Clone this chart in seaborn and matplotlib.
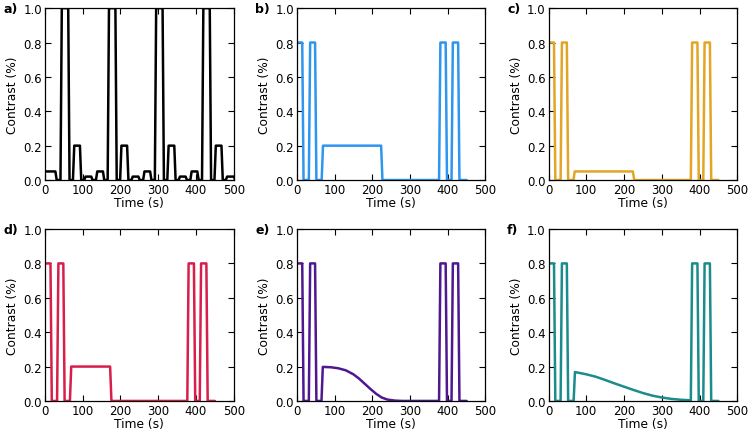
import numpy as np
import pandas as pd
import seaborn as sns
import matplotlib.pyplot as plt

# pulse tables: start of rise, end of fall (s), plateau level
ramp = 3.5

a_on = [-4, 41, 74, 104, 135, 166, 199, 229, 260, 291, 324, 354, 385, 416, 449, 479]
a_off = [31, 65, 96, 126, 157, 190, 221, 251, 282, 315, 346, 376, 407, 440, 471, 504]
a_lvl = [0.05, 1.0, 0.2, 0.02, 0.05, 1.0, 0.2, 0.02, 0.05, 1.0, 0.2, 0.02, 0.05, 1.0, 0.2, 0.02]

b_on = [-4, 32, 66, 377, 410]
b_off = [18, 52, 227, 398, 431]
b_lvl = [0.8, 0.8, 0.2, 0.8, 0.8]

c_on = [-4, 32, 66, 377, 410]
c_off = [18, 52, 227, 398, 431]
c_lvl = [0.8, 0.8, 0.05, 0.8, 0.8]

d_on = [-4, 32, 66, 377, 410]
d_off = [18, 52, 176, 398, 431]
d_lvl = [0.8, 0.8, 0.2, 0.8, 0.8]

e_on = [-4, 32, 377, 410]
e_off = [18, 52, 398, 431]
e_lvl = [0.8, 0.8, 0.8, 0.8]
e_decay_t = [69, 90, 110, 130, 150, 165, 180, 195, 210, 225, 240, 260, 280]
e_decay_v = [0.198, 0.196, 0.19, 0.178, 0.155, 0.13, 0.1, 0.07, 0.042, 0.02, 0.008, 0.002, 0.0]

f_on = [-4, 32, 377, 410]
f_off = [18, 52, 398, 431]
f_lvl = [0.8, 0.8, 0.8, 0.8]
f_decay_t = [70, 100, 125, 150, 175, 200, 225, 250, 275, 300, 325, 350, 375]
f_decay_v = [0.168, 0.155, 0.141, 0.122, 0.102, 0.083, 0.064, 0.046, 0.031, 0.02, 0.012, 0.007, 0.004]

t_end = 450


def build(on, off, lvl, decay_t=None, decay_v=None, end=t_end):
    pts = []
    for s, e, v in zip(on, off, lvl):
        pts += [(s, 0.0), (s + ramp, v), (e - ramp, v), (e, 0.0)]
    if decay_t is not None:
        pts += [(decay_t[0] - ramp, 0.0)] + list(zip(decay_t, decay_v))
    pts.sort(key=lambda p: p[0])
    pts.append((end, 0.0))
    return pd.DataFrame(pts, columns=["time", "contrast"])


panels = [
    ("a)", build(a_on, a_off, a_lvl, end=505), "black"),
    ("b)", build(b_on, b_off, b_lvl), "#2f96ef"),
    ("c)", build(c_on, c_off, c_lvl), "#e3a526"),
    ("d)", build(d_on, d_off, d_lvl), "#d81e4a"),
    ("e)", build(e_on, e_off, e_lvl, e_decay_t, e_decay_v), "#4f1890"),
    ("f)", build(f_on, f_off, f_lvl, f_decay_t, f_decay_v), "#1b8c8c"),
]

sns.set_style("ticks", {"xtick.direction": "in", "ytick.direction": "in",
                        "axes.edgecolor": "black", "text.color": "black",
                        "axes.labelcolor": "black", "xtick.color": "black",
                        "ytick.color": "black"})
plt.rcParams["font.family"] = ["DejaVu Sans"]
plt.rcParams["font.size"] = 8.5

fig, axes = plt.subplots(2, 3, figsize=(7.5, 4.35), dpi=100)
plt.subplots_adjust(left=0.06, right=0.983, top=0.979, bottom=0.076, wspace=0.334, hspace=0.285)

for ax, (tag, df, col) in zip(axes.flat, panels):
    sns.lineplot(data=df, x="time", y="contrast", ax=ax, color=col, lw=1.8,
                 sort=False, estimator=None)
    ax.set_xlim(0, 500)
    ax.set_ylim(0, 1.0)
    ax.set_xticks([0, 100, 200, 300, 400, 500])
    ax.set_yticks([0.0, 0.2, 0.4, 0.6, 0.8, 1.0])
    ax.set_yticklabels(["0.0", "0.2", "0.4", "0.6", "0.8", "1.0"])
    ax.tick_params(top=True, right=True, length=4, width=0.8, labelsize=8.5, pad=2)
    ax.set_xlabel("Time (s)", fontsize=8.8, labelpad=0)
    ax.set_ylabel("Contrast (%)", fontsize=8.8, labelpad=3)
    for sp in ax.spines.values():
        sp.set_linewidth(0.9)
    ax.text(-0.22, 0.995, tag, transform=ax.transAxes, fontsize=9, fontweight="bold",
            ha="left", va="center")

plt.savefig("out.png", dpi=100)
